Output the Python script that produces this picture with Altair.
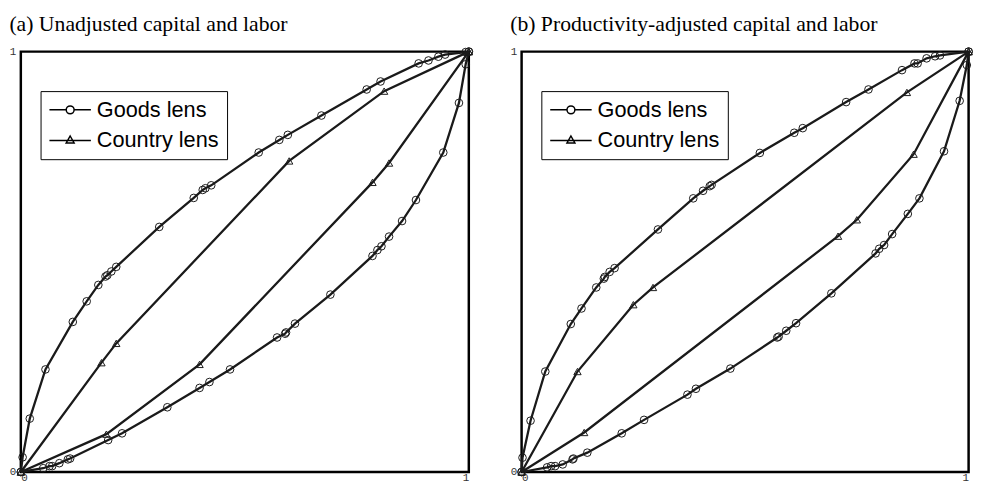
import altair as alt
import pandas as pd

# ---------------- data ----------------
series_names = ["Goods lens", "Country lens"]
tick_values = [0, 1]
titles = ["(a) Unadjusted capital and labor", "(b) Productivity-adjusted capital and labor"]

# Panel (a)
a_goods_up_x = [0, 0.004, 0.020, 0.055, 0.116, 0.147, 0.173, 0.189, 0.193, 0.202, 0.213, 0.309, 0.386, 0.406,
                0.412, 0.425, 0.531, 0.577, 0.596, 0.671, 0.772, 0.803, 0.888, 0.910, 0.932, 0.947, 0.993, 1]
a_goods_up_y = [0, 0.035, 0.127, 0.244, 0.357, 0.406, 0.445, 0.465, 0.468, 0.477, 0.488, 0.583, 0.652, 0.671,
                0.675, 0.682, 0.760, 0.790, 0.802, 0.848, 0.910, 0.929, 0.972, 0.979, 0.988, 0.993, 0.999, 1]
a_goods_lo_x = [0, 0.050, 0.064, 0.070, 0.086, 0.105, 0.110, 0.195, 0.226, 0.327, 0.399, 0.421, 0.467, 0.572,
                0.590, 0.592, 0.612, 0.691, 0.785, 0.796, 0.805, 0.822, 0.851, 0.882, 0.943, 0.978, 0.993, 1]
a_goods_lo_y = [0, 0.009, 0.014, 0.014, 0.021, 0.030, 0.032, 0.076, 0.092, 0.154, 0.200, 0.214, 0.244, 0.320,
                0.329, 0.332, 0.353, 0.422, 0.514, 0.528, 0.537, 0.560, 0.597, 0.647, 0.760, 0.878, 0.970, 1]
a_country_up_x = [0, 0.180, 0.213, 0.599, 0.811, 1]
a_country_up_y = [0, 0.260, 0.306, 0.740, 0.906, 1]
a_country_lo_x = [0, 0.191, 0.399, 0.785, 0.822, 1]
a_country_lo_y = [0, 0.090, 0.256, 0.689, 0.735, 1]

# Panel (b)
b_goods_up_x = [0, 0.002, 0.020, 0.053, 0.110, 0.134, 0.167, 0.184, 0.186, 0.197, 0.208, 0.305, 0.384, 0.406,
                0.421, 0.425, 0.533, 0.610, 0.629, 0.726, 0.776, 0.851, 0.879, 0.886, 0.906, 0.925, 0.936, 1]
b_goods_up_y = [0, 0.034, 0.122, 0.239, 0.352, 0.389, 0.439, 0.460, 0.464, 0.476, 0.485, 0.577, 0.651, 0.669,
                0.680, 0.683, 0.759, 0.807, 0.818, 0.880, 0.910, 0.956, 0.972, 0.972, 0.984, 0.989, 0.991, 1]
b_goods_lo_x = [0, 0.057, 0.066, 0.075, 0.092, 0.114, 0.116, 0.147, 0.224, 0.274, 0.371, 0.390, 0.467, 0.572,
                0.575, 0.592, 0.614, 0.693, 0.792, 0.800, 0.811, 0.829, 0.864, 0.890, 0.945, 0.980, 0.996, 1]
b_goods_lo_y = [0, 0.011, 0.014, 0.014, 0.018, 0.030, 0.032, 0.046, 0.092, 0.124, 0.184, 0.198, 0.246, 0.320,
                0.322, 0.336, 0.354, 0.425, 0.520, 0.531, 0.540, 0.566, 0.614, 0.651, 0.763, 0.883, 0.968, 1]
b_country_up_x = [0, 0.125, 0.250, 0.294, 0.862, 1]
b_country_up_y = [0, 0.239, 0.398, 0.439, 0.903, 1]
b_country_lo_x = [0, 0.140, 0.708, 0.750, 0.877, 1]
b_country_lo_y = [0, 0.094, 0.561, 0.600, 0.756, 1]


def build(curves):
    rows = []
    for name, series, xs, ys in curves:
        for i, (xv, yv) in enumerate(zip(xs, ys)):
            rows.append({"curve": name, "series": series, "idx": i, "x": xv, "y": yv})
    return pd.DataFrame(rows)


df_a = build([
    ("gu", "Goods lens", a_goods_up_x, a_goods_up_y),
    ("gl", "Goods lens", a_goods_lo_x, a_goods_lo_y),
    ("cu", "Country lens", a_country_up_x, a_country_up_y),
    ("cl", "Country lens", a_country_lo_x, a_country_lo_y),
])
df_b = build([
    ("gu", "Goods lens", b_goods_up_x, b_goods_up_y),
    ("gl", "Goods lens", b_goods_lo_x, b_goods_lo_y),
    ("cu", "Country lens", b_country_up_x, b_country_up_y),
    ("cl", "Country lens", b_country_lo_x, b_country_lo_y),
])

INK = "#1a1a1a"
legend_paths = [
    "M-1,0H0.7 M1.5,0H3.2 M0.7,0A0.4,0.4 0 1,1 1.5,0A0.4,0.4 0 1,1 0.7,0Z",
    "M-1,0H3.2 M1.1,-0.45L1.5,0.25H0.7Z",
]


def panel(df, title, width):
    base = alt.Chart(df)
    axis_common = dict(values=tick_values, title=None, ticks=False, domain=False, grid=False,
                       labelFont="Liberation Mono", labelFontSize=11, labelColor="#333333",
                       format="d")
    x = alt.X("x:Q", scale=alt.Scale(domain=[0, 1], nice=False),
              axis=alt.Axis(labelPadding=0, labelFlush=True, **axis_common))
    y = alt.Y("y:Q", scale=alt.Scale(domain=[0, 1], nice=False),
              axis=alt.Axis(labelPadding=5, labelFlush=False, **axis_common))
    lines = base.mark_line(color=INK, strokeWidth=2.3).encode(
        x=x, y=y, detail="curve:N", order="idx:Q")
    circles = base.transform_filter(alt.datum.series == "Goods lens").mark_point(
        shape="circle", filled=False, color=INK, size=60, strokeWidth=1, opacity=1).encode(x=x, y=y)
    tris = base.transform_filter(alt.datum.series == "Country lens").mark_point(
        shape="triangle-up", filled=False, color=INK, size=55, strokeWidth=1, opacity=1).encode(x=x, y=y)
    leg = base.transform_filter("datum.x > 2").mark_point(
        filled=False, color="black", opacity=1, strokeWidth=1.5).encode(
        x=x, y=y,
        shape=alt.Shape("series:N", scale=alt.Scale(domain=series_names, range=legend_paths),
                        legend=alt.Legend(title=None, orient="none", legendX=20, legendY=40,
                                          strokeColor="black", fillColor="white", padding=8,
                                          labelFont="Liberation Sans", labelFontSize=22,
                                          labelColor="black", symbolSize=400,
                                          symbolStrokeColor="black", symbolStrokeWidth=1.5,
                                          symbolFillColor="transparent", symbolOpacity=1,
                                          labelOffset=27, rowPadding=9)))
    return alt.layer(lines, circles, tris, leg).properties(
        width=width, height=426,
        title=alt.TitleParams(title, anchor="start", font="Liberation Serif", fontSize=22,
                              fontWeight="normal", color="black", offset=10))


chart = alt.hconcat(panel(df_a, titles[0], 454), panel(df_b, titles[1], 453), spacing=32.5).resolve_scale(
    shape="independent").resolve_legend(shape="independent").configure_view(
    stroke="black", strokeWidth=2.5).properties(padding=0, background="white")

chart.save("out.html", embed_options={"renderer": "svg", "actions": False})
